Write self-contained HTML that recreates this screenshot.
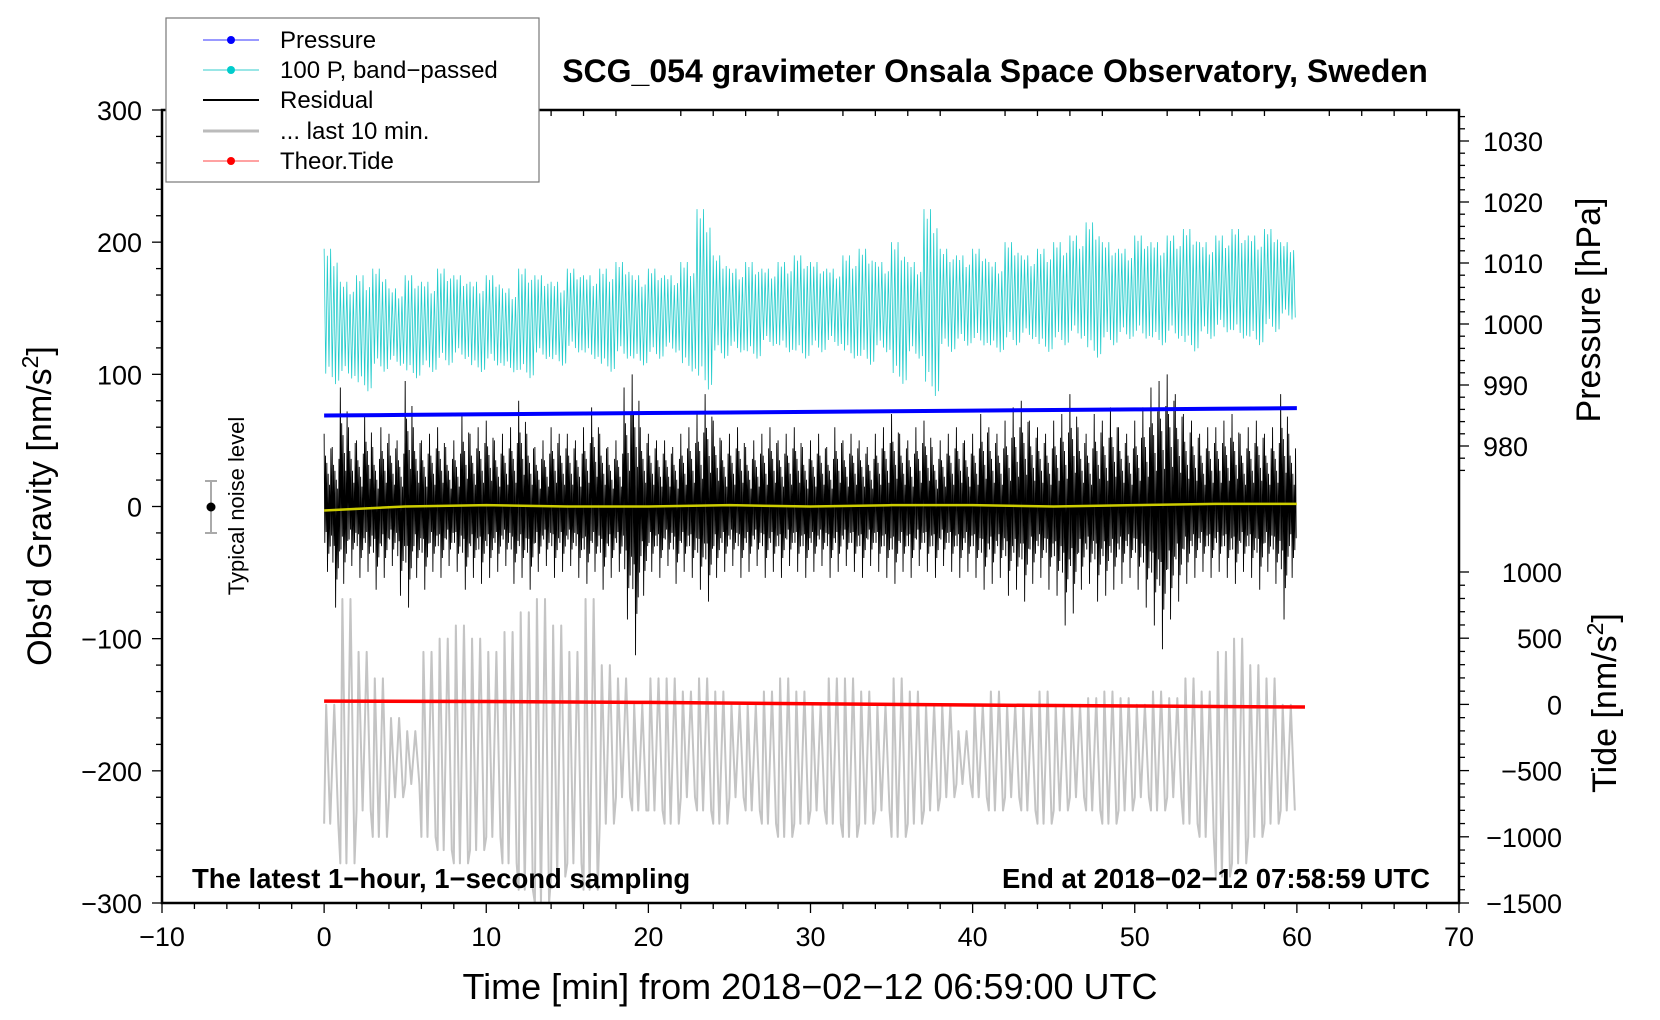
<!DOCTYPE html>
<html><head><meta charset="utf-8">
<style>
html,body{margin:0;padding:0;background:#fff;}
svg{display:block;font-family:"Liberation Sans",sans-serif;}
</style></head>
<body>
<svg id="chart" width="1660" height="1020" viewBox="0 0 1660 1020" xmlns="http://www.w3.org/2000/svg">
<rect x="0" y="0" width="1660" height="1020" fill="#fff"/>
<g id="marks"></g>
<g id="axes"></g>
<text x="995" y="82" font-size="32" font-weight="bold" text-anchor="middle">SCG_054 gravimeter Onsala Space Observatory, Sweden</text>
<text x="192" y="888" font-size="27.5" font-weight="bold">The latest 1−hour, 1−second sampling</text>
<text x="1430" y="888" font-size="27.5" font-weight="bold" text-anchor="end">End at 2018−02−12 07:58:59 UTC</text>
<text x="810" y="999" font-size="36" text-anchor="middle">Time [min] from 2018−02−12 06:59:00 UTC</text>
<text transform="translate(51,506) rotate(-90)" font-size="34" text-anchor="middle">Obs'd Gravity [nm/s<tspan font-size="23" dy="-13">2</tspan><tspan dy="13">]</tspan></text>
<text transform="translate(1600,310) rotate(-90)" font-size="34" text-anchor="middle">Pressure [hPa]</text>
<text transform="translate(1616,703) rotate(-90)" font-size="34" text-anchor="middle">Tide [nm/s<tspan font-size="23" dy="-13">2</tspan><tspan dy="13">]</tspan></text>
<g>
<line x1="211" y1="481" x2="211" y2="533" stroke="#aaa" stroke-width="2"/>
<line x1="205" y1="481" x2="217" y2="481" stroke="#aaa" stroke-width="2"/>
<line x1="205" y1="533" x2="217" y2="533" stroke="#aaa" stroke-width="2"/>
<circle cx="211" cy="507" r="4.5" fill="#000"/>
<text transform="translate(244,506) rotate(-90)" font-size="22" text-anchor="middle">Typical noise level</text>
</g>
<g>
<rect x="166" y="18" width="373" height="164" fill="#fff" stroke="#777" stroke-width="1.2"/>
<g><line x1="203" y1="40" x2="259" y2="40" stroke="#33f" stroke-width="1"/><circle cx="231" cy="40" r="4" fill="#00f"/><text x="280" y="48" font-size="24">Pressure</text></g>
<g><line x1="203" y1="70" x2="259" y2="70" stroke="#3cc" stroke-width="1"/><circle cx="231" cy="70" r="4" fill="#0cc"/><text x="280" y="78" font-size="24">100 P, band−passed</text></g>
<g><line x1="203" y1="100" x2="259" y2="100" stroke="#000" stroke-width="2"/><text x="280" y="108" font-size="24">Residual</text></g>
<g><line x1="203" y1="131" x2="259" y2="131" stroke="#bbb" stroke-width="3"/><text x="280" y="139" font-size="24">... last 10 min.</text></g>
<g><line x1="203" y1="161" x2="259" y2="161" stroke="#f44" stroke-width="1"/><circle cx="231" cy="161" r="4" fill="#f00"/><text x="280" y="169" font-size="24">Theor.Tide</text></g>
</g>
</svg>
<script>
// ---- data ----
const resHi = [55,45,90,60,50,70,45,60,55,50, 95,60,50,55,60,45,50,70,55,60, 65,50,55,60,80,55,45,50,60,55, 55,50,60,75,55,45,50,90,100,60, 55,50,50,45,55,60,70,85,65,50, 55,60,45,50,55,60,50,55,60,45, 50,55,45,60,50,55,50,45,55,60, 70,55,50,60,65,45,50,55,60,50, 55,70,60,55,65,75,80,65,60,55, 65,70,85,60,55,70,65,75,60,55, 65,75,90,95,100,85,70,65,55,60, 60,65,70,55,60,65,55,60,85,55];
const resLo = [-55,-85,-65,-50,-60,-55,-70,-60,-50,-75, -85,-60,-70,-55,-60,-50,-55,-70,-60,-65, -60,-55,-50,-65,-60,-70,-55,-50,-60,-55, -50,-60,-65,-55,-70,-60,-55,-95,-125,-75, -55,-60,-50,-65,-55,-60,-70,-80,-60,-55, -50,-60,-55,-50,-60,-55,-60,-50,-55,-60, -55,-50,-60,-55,-50,-55,-60,-50,-55,-60, -65,-55,-60,-50,-55,-60,-50,-55,-60,-55, -60,-70,-65,-60,-75,-70,-80,-65,-60,-70, -75,-100,-90,-70,-65,-80,-75,-70,-65,-60, -70,-85,-100,-120,-95,-80,-65,-60,-55,-60, -55,-60,-65,-55,-60,-70,-55,-65,-95,-60];
const cyanHi = [195,170,175,180,165,175,170,180,175,170, 175,165,180,175,170,180,175,180,185,175, 180,175,185,225,190,180,185,180,185,190, 185,180,190,195,185,200,185,225,195,190, 195,185,200,190,195,200,205,215,200,195, 205,200,205,210,200,205,210,205,210,200];
const cyanLo = [90,95,85,100,105,95,100,105,110,100, 105,100,95,110,105,115,110,100,110,105, 110,115,100,85,110,115,110,120,115,110, 115,120,110,105,115,90,110,80,115,120, 120,115,120,125,115,120,125,110,120,125, 125,120,125,115,125,130,125,120,130,140];
const grayPk = [-150,-70,-110,-130,-160,-170,-110,-100,-90,-100, -110,-95,-80,-70,-90,-110,-70,-120,-130,-150, -130,-130,-140,-130,-140,-150,-150,-140,-130,-140, -150,-130,-130,-140,-150,-130,-140,-150,-150,-170, -150,-140,-150,-150,-140,-150,-150,-145,-140,-145, -150,-140,-145,-130,-140,-110,-100,-120,-130,-150];
const grayTr = [-240,-270,-230,-250,-220,-210,-250,-260,-270,-260, -250,-270,-290,-300,-280,-270,-290,-240,-220,-230, -230,-240,-220,-230,-240,-220,-230,-240,-250,-240, -230,-240,-250,-240,-230,-250,-240,-230,-220,-210, -220,-230,-220,-230,-240,-230,-220,-230,-240,-230, -220,-230,-220,-240,-250,-280,-270,-250,-240,-230];
const pressTimes = [0,5,10,15,20,25,30,35,40,45,50,55,60];
const pressVals = [985.0,985.1,985.2,985.3,985.4,985.5,985.6,985.7,985.8,985.9,986.0,986.1,986.2];
const meanVals = [-3,0,1,0,0,1,0,1,1,0,1,2,2];
const tideTimes = [0,10,20,30,40,50,60.5];
const tideVals = [25,22,15,5,-5,-12,-20];
const xTicks = [-10,0,10,20,30,40,50,60,70];
const yTicks = [-300,-200,-100,0,100,200,300];
const pTicks = [980,990,1000,1010,1020,1030];
const tTicks = [-1500,-1000,-500,0,500,1000];

// ---- scales ----
const L=162,R=1459,T=110,B=903;
const X = t => L + (t+10)/80*(R-L);
const Y = v => B - (v+300)/600*(B-T);
const P = p => 446 - (p-980)*6.1;
const TD = v => 903 - (v+1500)/500*66.2;
const NS='http://www.w3.org/2000/svg';
const marks=document.getElementById('marks'), axes=document.getElementById('axes');
function mk(tag, attrs, parent){const e=document.createElementNS(NS,tag);for(const k in attrs)e.setAttribute(k,attrs[k]);parent.appendChild(e);return e;}

let gd='';
grayPk.forEach((pk,i)=>{const tr=grayTr[i];
  const pts=[[i,tr],[i+0.125,pk],[i+0.375,tr],[i+0.625,pk],[i+0.875,tr]];
  pts.forEach((p,k)=>{
    if(i===0&&k===0){gd+='M'+X(p[0])+','+Y(p[1]);}
    else{gd+=' L'+X(p[0])+','+Y(p[1]);}
  });});
let el=mk('path',{d:gd,fill:'none',stroke:'#c4c4c4','stroke-width':2,'stroke-linejoin':'round'},marks);



let c=[];
const cf=[1,0.8,0.9,0.7,1,0.85,0.75,0.95,0.8,0.9];
cyanHi.forEach((hi,i)=>{const lo=cyanLo[i];const mid=(hi+lo)/2;for(let k=0;k<10;k++){const a=(k%2?lo:hi)-mid;c.push([X(i+k/10),Y(mid+a*cf[k])]);}});
el=mk('polyline',{points:c.map(p=>p.join(',')).join(' '),fill:'none',stroke:'#22cccc','stroke-width':0.8},marks);



let r=[];
const rf=[1,0.5,0.7,0.35,0.6,0.9,0.45,0.65,0.3,0.55,0.8,0.4];
resHi.forEach((hi,i)=>{const lo=resLo[i];const t=i*0.5;
  for(let k=0;k<12;k++){r.push([X(t+k/24),Y((k%2?lo:hi)*rf[k])]);}});
el=mk('polyline',{points:r.map(p=>p.join(',')).join(' '),fill:'none',stroke:'#000','stroke-width':0.9},marks);



el=mk('polyline',{points:pressTimes.map((t,i)=>X(t)+','+Y(meanVals[i])).join(' '),fill:'none',stroke:'#cccc00','stroke-width':2.5},marks);



el=mk('polyline',{points:pressTimes.map((t,i)=>X(t)+','+P(pressVals[i])).join(' '),fill:'none',stroke:'#0000ff','stroke-width':4},marks);



el=mk('polyline',{points:tideTimes.map((t,i)=>X(t)+','+TD(tideVals[i])).join(' '),fill:'none',stroke:'#ff0000','stroke-width':3.5},marks);



el=mk('rect',{x:L,y:T,width:R-L,height:B-T,fill:'none',stroke:'#000','stroke-width':2.5},axes);


for(let t=-10;t<=70;t+=2){const big=t%10===0;mk('line',{x1:X(t),x2:X(t),y1:B,y2:B+(big?10:6),stroke:'#000','stroke-width':1.3},axes);mk('line',{x1:X(t),x2:X(t),y1:T,y2:T+(big?0:6),stroke:'#000','stroke-width':1.3},axes);}
xTicks.forEach(t=>{const e=mk('text',{x:X(t),y:B+43,'font-size':27,'text-anchor':'middle'},axes);e.textContent=(t<0?'−':'')+Math.abs(t);

});
for(let v=-300;v<=300;v+=20){const big=v%100===0;mk('line',{x1:L-(big?10:6),x2:L,y1:Y(v),y2:Y(v),stroke:'#000','stroke-width':1.3},axes);}
yTicks.forEach(v=>{const e=mk('text',{x:L-20,y:Y(v)+10,'font-size':27,'text-anchor':'end'},axes);e.textContent=(v<0?'−':'')+Math.abs(v);

});
for(let p=976;p<=1034;p+=2){const big=p%10===0;mk('line',{x1:R,x2:R+(big?10:6),y1:P(p),y2:P(p),stroke:'#000','stroke-width':1.3},axes);}
pTicks.forEach(p=>{const e=mk('text',{x:R+24,y:P(p)+10,'font-size':27},axes);e.textContent=p;

});
for(let v=-1500;v<=1000;v+=100){const big=v%500===0;mk('line',{x1:R,x2:R+(big?10:6),y1:TD(v),y2:TD(v),stroke:'#000','stroke-width':1.3},axes);}
tTicks.forEach(v=>{const e=mk('text',{x:R+103,y:TD(v)+10,'font-size':27,'text-anchor':'end'},axes);e.textContent=(v<0?'−':'')+Math.abs(v);

});
</script>
</body></html>
